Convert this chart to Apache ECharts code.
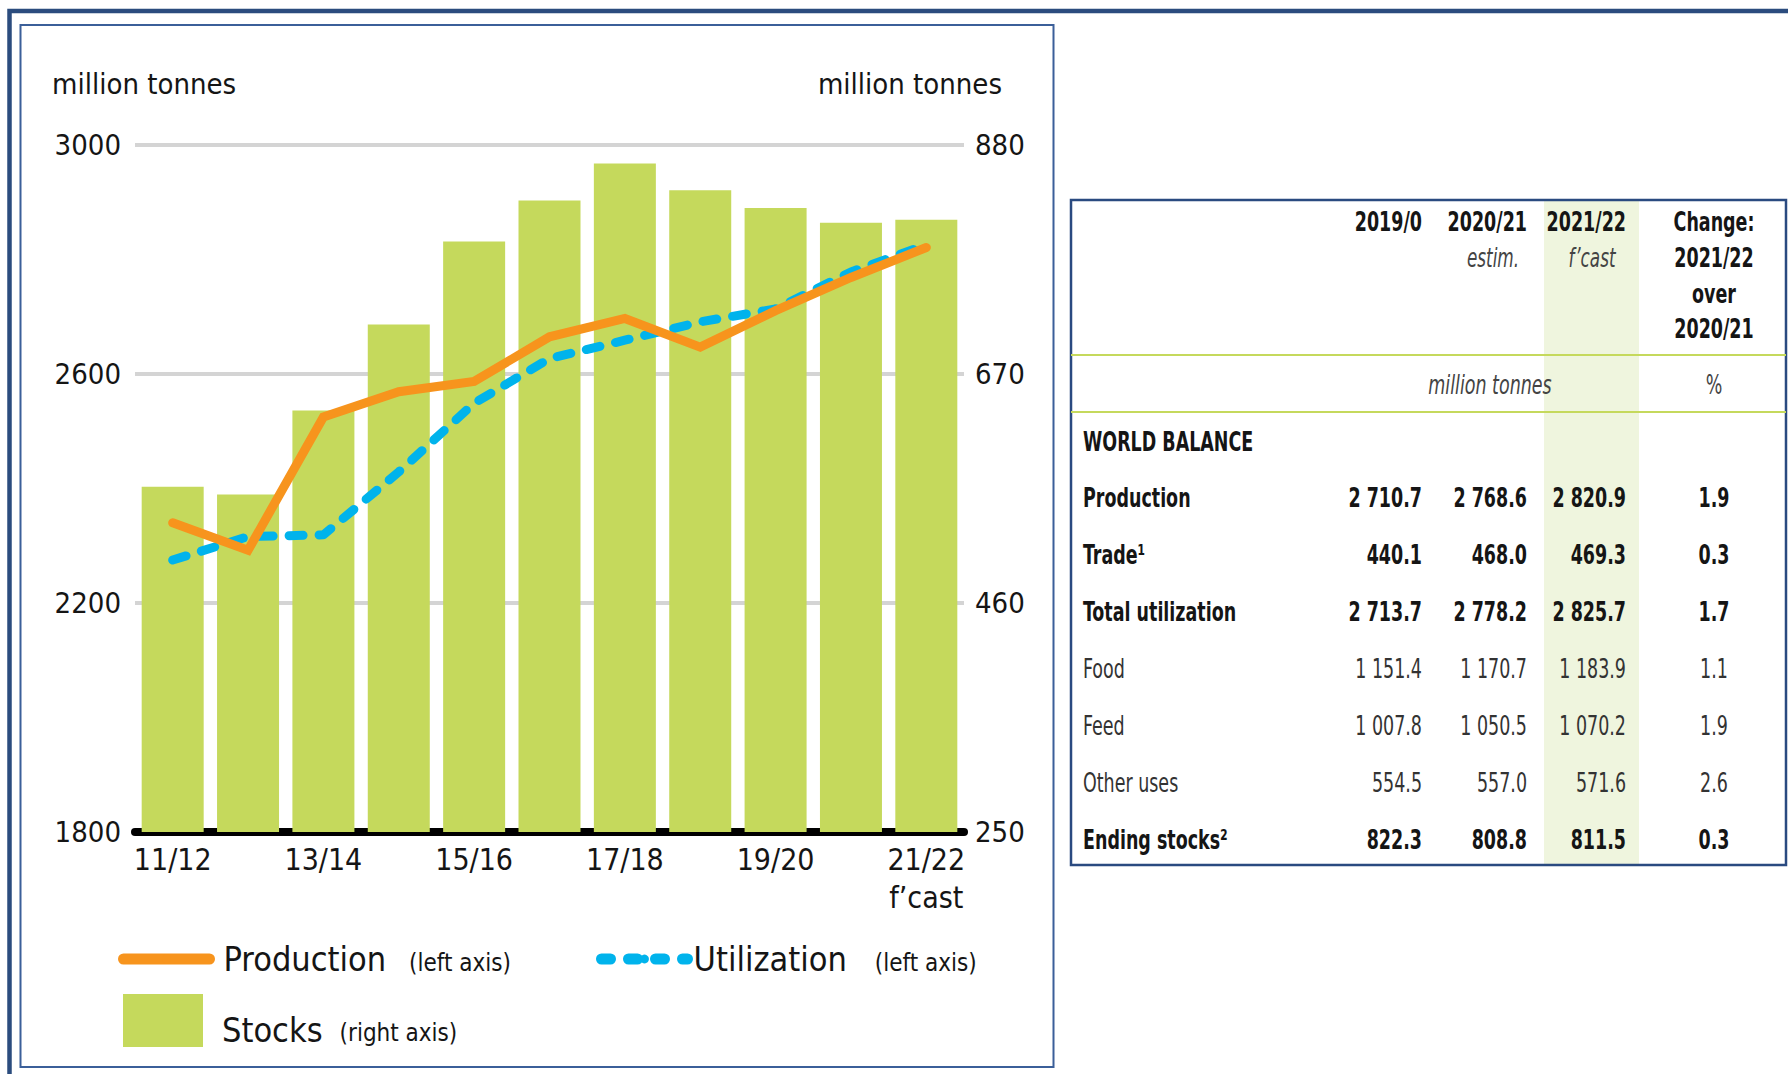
<!DOCTYPE html>
<html>
<head>
<meta charset="utf-8">
<script src="https://cdn.jsdelivr.net/npm/echarts@6/dist/echarts.min.js"></script>
<style>
  html, body { margin: 0; padding: 0; background: #fff; }
  #chart { width: 1788px; height: 1074px; }
</style>
</head>
<body>
<div id="chart"></div>
<script>
// chart data
const seasons = ['11/12', '12/13', '13/14', '14/15', '15/16', '16/17', '17/18', '18/19', '19/20', '20/21', '21/22\nf’cast'];
const production = [2340, 2292, 2525, 2569, 2587, 2665, 2697, 2647, 2710.7, 2768.6, 2820.9];
const utilization = [2275, 2316, 2319, 2429, 2549, 2627, 2659, 2691, 2713.7, 2778.2, 2825.7];
const stocks = [566.5, 559.5, 636.5, 715.5, 791.5, 829, 863, 838.5, 822.3, 808.8, 811.5];
const leftTicks = [1800, 2200, 2600, 3000];
const rightTicks = [250, 460, 670, 880];

// table data
const tableHeads = ['2019/0', '2020/21', '2021/22'];
const tableSubHeads = ['', 'estim.', 'f’cast'];
const changeHead = ['Change:', '2021/22', 'over', '2020/21'];
const rowLabels = ['Production', 'Trade¹', 'Total utilization', 'Food', 'Feed', 'Other uses', 'Ending stocks²'];
const rowBold = [true, true, true, false, false, false, true];
const col2019 = ['2 710.7', '440.1', '2 713.7', '1 151.4', '1 007.8', '554.5', '822.3'];
const col2020 = ['2 768.6', '468.0', '2 778.2', '1 170.7', '1 050.5', '557.0', '808.8'];
const col2021 = ['2 820.9', '469.3', '2 825.7', '1 183.9', '1 070.2', '571.6', '811.5'];
const colChange = ['1.9', '0.3', '1.7', '1.1', '1.9', '2.6', '0.3'];

const FONT = '"DejaVu Sans Condensed", "Liberation Sans", sans-serif';
const INK = '#151515';
const GREEN = '#c5d95c';
const ORANGE = '#f7941d';
const BLUE = '#00b3ec';

const chart = echarts.init(document.getElementById('chart'), null, { renderer: 'svg' });

// table text is squeezed horizontally to look like the condensed original
const SQUEEZE = 0.72;
const txt = (x, y, text, o) => ({
  type: 'text', x: x, y: y, silent: true, scaleX: SQUEEZE,
  style: Object.assign({
    text: text, fill: INK, fontFamily: FONT, fontSize: 27,
    align: 'left', verticalAlign: 'middle'
  }, o || {})
});

const colRight = [1422, 1527, 1626];
const headCenter = [1391, 1493, 1592];
const changeX = 1714;
const headY = [222, 258, 294, 329];
const rowY = rowLabels.map((_, i) => 498 + i * 57);

const graphics = [
  // outer frame and chart box
  { type: 'rect', shape: { x: 9.5, y: 11, width: 1800, height: 1100 }, style: { fill: 'none', stroke: '#2b4c7e', lineWidth: 4.5 } },
  { type: 'rect', shape: { x: 20.5, y: 25, width: 1033, height: 1042 }, style: { fill: 'none', stroke: '#3b5f99', lineWidth: 2 } },
  // table
  { type: 'rect', shape: { x: 1544, y: 201, width: 95, height: 664 }, style: { fill: '#eff5de' } },
  { type: 'rect', shape: { x: 1071, y: 200, width: 715, height: 665 }, style: { fill: 'none', stroke: '#2a4a80', lineWidth: 2.5 } },
  { type: 'line', shape: { x1: 1071, y1: 355, x2: 1786, y2: 355 }, style: { stroke: GREEN, lineWidth: 2 } },
  { type: 'line', shape: { x1: 1071, y1: 412, x2: 1786, y2: 412 }, style: { stroke: GREEN, lineWidth: 2 } }
];

tableHeads.forEach((h, i) => {
  graphics.push(txt(colRight[i], headY[0], h, { align: 'right', fontWeight: 'bold' }));
  if (tableSubHeads[i]) {
    graphics.push(txt(headCenter[i], headY[1], tableSubHeads[i], { align: 'center', fontStyle: 'italic', fill: '#444', fontSize: 26 }));
  }
});
changeHead.forEach((h, i) => {
  graphics.push(txt(changeX, headY[i], h, { align: 'center', fontWeight: 'bold' }));
});
graphics.push(txt(1490, 385, 'million tonnes', { align: 'center', fontStyle: 'italic', fill: '#444', fontSize: 27 }));
graphics.push(txt(changeX, 385, '%', { align: 'center', fill: '#444', fontSize: 27 }));
graphics.push(txt(1083, 442, 'WORLD BALANCE', { fontWeight: 'bold' }));

rowLabels.forEach((label, i) => {
  const w = rowBold[i] ? 'bold' : 'normal';
  const c = rowBold[i] ? INK : '#333';
  graphics.push(txt(1083, rowY[i], label, { fontWeight: w, fill: c }));
  [col2019, col2020, col2021].forEach((col, j) => {
    graphics.push(txt(colRight[j], rowY[i], col[i], { align: 'right', fontWeight: w, fill: c }));
  });
  graphics.push(txt(changeX, rowY[i], colChange[i], { align: 'center', fontWeight: w, fill: c }));
});

const legendRich = (padA, padB) => ({
  a: { fontFamily: FONT, fontSize: 34, color: INK, padding: padA, lineHeight: 48 },
  b: { fontFamily: FONT, fontSize: 24, color: INK, padding: padB, lineHeight: 48 }
});

const option = {
  animation: false,
  backgroundColor: '#fff',
  title: [
    { text: 'million tonnes', left: 52, top: 69, padding: 0,
      textStyle: { fontFamily: FONT, fontSize: 29, fontWeight: 'normal', color: INK } },
    { text: 'million tonnes', right: 786, top: 69, padding: 0,
      textStyle: { fontFamily: FONT, fontSize: 29, fontWeight: 'normal', color: INK } }
  ],
  grid: { left: 135, right: 824, top: 145, bottom: 242 },
  legend: [
    {
      data: ['Production'],
      left: 118, top: 942, itemWidth: 86, itemHeight: 11, padding: 0,
      lineStyle: { width: 11, cap: 'round' },
      formatter: n => `{a|${n}}{b|(left axis)}`,
      textStyle: { rich: legendRich([0, 0, 0, 9], [8, 0, 0, 23]) }
    },
    {
      data: ['Utilization'],
      left: 596, top: 942, itemWidth: 86, itemHeight: 11, padding: 0,
      lineStyle: { width: 11, cap: 'round', type: [9, 18] },
      formatter: n => `{a|${n}}{b|(left axis)}`,
      textStyle: { rich: legendRich([0, 0, 0, 1], [8, 0, 0, 28]) }
    },
    {
      data: ['Stocks'],
      left: 123, top: 994, itemWidth: 80, itemHeight: 53, padding: 0, icon: 'rect',
      formatter: n => `{a|${n}}{b|(right axis)}`,
      textStyle: { rich: legendRich([18, 0, 0, 14], [24, 0, 0, 17]) }
    }
  ],
  xAxis: {
    type: 'category',
    data: seasons,
    boundaryGap: true,
    axisLine: { lineStyle: { color: '#000', width: 8 } },
    axisTick: { show: false },
    axisLabel: { interval: 1, fontFamily: FONT, fontSize: 30, color: INK, margin: 8, lineHeight: 38 }
  },
  yAxis: [
    {
      type: 'value', min: 1800, max: 3000, interval: 200,
      axisLine: { show: false }, axisTick: { show: false },
      axisLabel: {
        fontFamily: FONT, fontSize: 29, color: INK, margin: 14,
        formatter: v => (leftTicks.indexOf(v) >= 0 ? String(v) : '')
      },
      // only every other line visible: 1800, 2200, 2600, 3000
      splitLine: { lineStyle: { color: ['#d4d4d4', 'rgba(0,0,0,0)'], width: 4 } }
    },
    {
      type: 'value', min: 250, max: 880, position: 'right',
      axisLine: { show: false }, axisTick: { show: false },
      splitLine: { show: false },
      axisLabel: { customValues: rightTicks, fontFamily: FONT, fontSize: 29, color: INK, margin: 11 }
    }
  ],
  series: [
    {
      name: 'Stocks', type: 'bar', yAxisIndex: 1, data: stocks,
      barWidth: 62, itemStyle: { color: GREEN }
    },
    {
      name: 'Utilization', type: 'line', yAxisIndex: 0, data: utilization,
      symbol: 'none', z: 3, itemStyle: { color: BLUE },
      lineStyle: { color: BLUE, width: 9, type: [14, 16], cap: 'round', join: 'round' }
    },
    {
      name: 'Production', type: 'line', yAxisIndex: 0, data: production,
      symbol: 'none', z: 4, itemStyle: { color: ORANGE },
      lineStyle: { color: ORANGE, width: 9, cap: 'round', join: 'miter' }
    }
  ],
  graphic: { elements: graphics }
};

chart.setOption(option);
</script>
</body>
</html>
